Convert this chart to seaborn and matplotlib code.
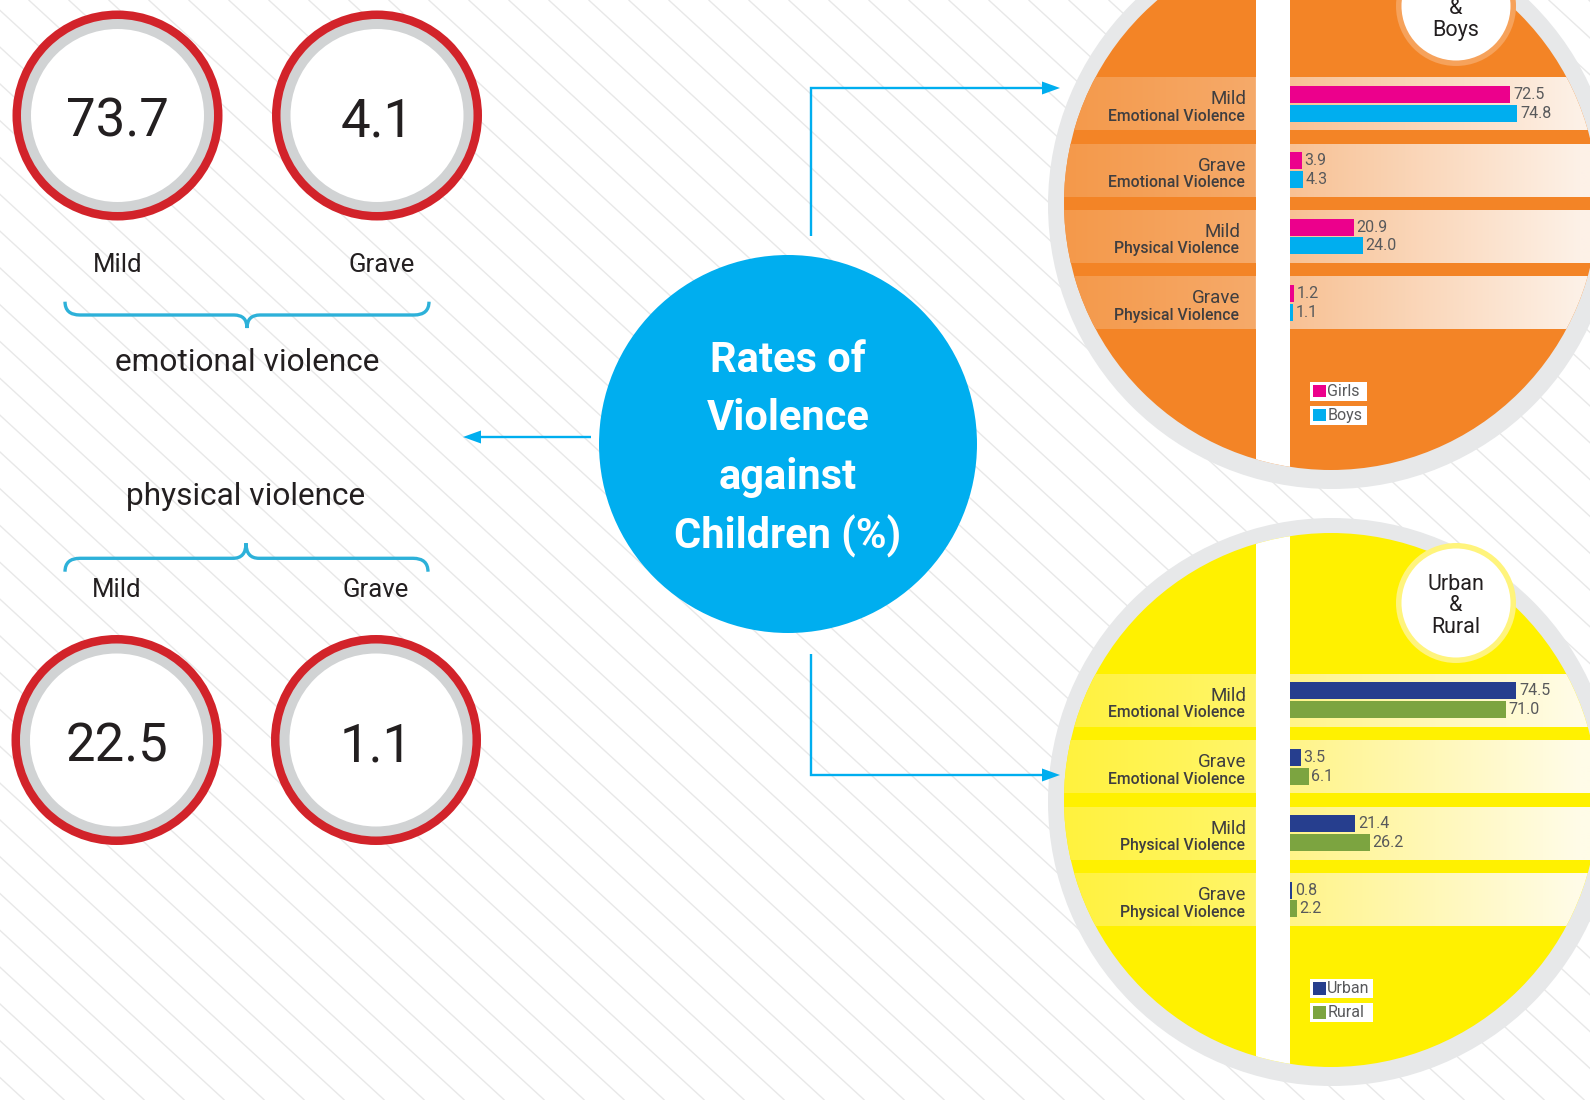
import numpy as np
import pandas as pd
import matplotlib
matplotlib.use("Agg")
import matplotlib.pyplot as plt
import seaborn as sns
from matplotlib.patches import Circle, Rectangle, Polygon, PathPatch
from matplotlib.path import Path
from matplotlib.colors import to_rgb

# ---------------- data ----------------
severity = ["Mild", "Grave", "Mild", "Grave"]
violence_type = ["Emotional Violence", "Emotional Violence",
                 "Physical Violence", "Physical Violence"]
girls = [72.5, 3.9, 20.9, 1.2]
boys = [74.8, 4.3, 24.0, 1.1]
urban = [74.5, 3.5, 21.4, 0.8]
rural = [71.0, 6.1, 26.2, 2.2]
overall_levels = ["Mild", "Grave"]
emotional_overall = [73.7, 4.1]
physical_overall = [22.5, 1.1]
gender_groups = ["Girls", "Boys"]
area_groups = ["Urban", "Rural"]
gender_title = ["Girls", "&", "Boys"]
area_title = ["Urban", "&", "Rural"]
title_lines = ["Rates of", "Violence", "against", "Children (%)"]
section_labels = ["emotional violence", "physical violence"]

# ---------------- setup ----------------
sns.set_theme(style="white")
plt.rcParams["font.family"] = ["Roboto", "DejaVu Sans"]

W, H = 1590, 1100
fig = plt.figure(figsize=(W / 100, H / 100), dpi=100)
ax = fig.add_axes([0, 0, 1, 1])
ax.axis("off")

DARK = "#231f20"
BLUE = "#00aeef"
BRACE = "#2db1d9"
LABEL = "#3f3e40"
VALUE = "#58595b"

# ---------------- hatched background ----------------
slope = 0.92
for c in np.arange(-1251.3, W + 40, 40.0):
    ax.plot([c, c + H / slope], [0, H], color="#e8e8e8", lw=1.0, zorder=0)


# ---------------- left: overall circles ----------------
def stat_circle(cx, cy, value):
    ax.add_patch(Circle((cx, cy), 105, fc="#d2232a", ec="none", zorder=2))
    ax.add_patch(Circle((cx, cy), 96.5, fc="#d1d3d4", ec="none", zorder=2.1))
    ax.add_patch(Circle((cx, cy), 86.5, fc="white", ec="none", zorder=2.2))
    ax.text(cx, cy + 21, f"{value:.1f}", ha="center", va="baseline",
            fontsize=38, color=DARK, fontweight="normal", zorder=3)


for x, v in zip([117.5, 377], emotional_overall):
    stat_circle(x, 115.5, v)
for x, v in zip([116.5, 376], physical_overall):
    stat_circle(x, 740, v)

for x, lab in zip([117.5, 382], overall_levels):
    ax.text(x, 272.5, lab, ha="center", va="baseline", fontsize=18.5, color=DARK, zorder=3)
for x, lab in zip([116.5, 376], overall_levels):
    ax.text(x, 596.7, lab, ha="center", va="baseline", fontsize=18.5, color=DARK, zorder=3)

ax.text(246.7, 370.7, section_labels[0], ha="center", va="baseline",
        fontsize=22.8, color=DARK, zorder=3)
ax.text(245.8, 505, section_labels[1], ha="center", va="baseline",
        fontsize=22.8, color=DARK, zorder=3)


def brace(x0, x1, xm, y_end, y_line, y_tip):
    e, m = 15, 13
    verts = [(x0, y_end), (x0, y_line), (x0 + e, y_line),
             (xm - m, y_line),
             (xm, y_line), (xm, y_tip),
             (xm, y_line), (xm + m, y_line),
             (x1 - e, y_line),
             (x1, y_line), (x1, y_end)]
    codes = [Path.MOVETO, Path.CURVE3, Path.CURVE3, Path.LINETO,
             Path.CURVE3, Path.CURVE3, Path.CURVE3, Path.CURVE3,
             Path.LINETO, Path.CURVE3, Path.CURVE3]
    ax.add_patch(PathPatch(Path(verts, codes), fc="none", ec=BRACE,
                           lw=2.4, zorder=3, capstyle="butt"))


brace(65, 429, 247, 301.7, 315, 328)
brace(65, 428, 246, 571.7, 558.3, 543.3)

# ---------------- centre circle ----------------
ax.add_patch(Circle((788, 444), 189, fc=BLUE, ec="none", zorder=2))
for i, line in enumerate(title_lines):
    ax.text(788, 371.5 + 58.9 * i, line, ha="center", va="baseline",
            fontsize=30, fontweight="bold", color="white", zorder=3)


def arrow_head(tx, ty, direction):
    L, hw = 18, 6.5
    pts = [(tx, ty), (tx - direction * L, ty - hw), (tx - direction * L, ty + hw)]
    ax.add_patch(Polygon(pts, closed=True, fc=BLUE, ec="none", zorder=3))


lw_arrow = 1.7
ax.plot([811, 811, 1045], [236, 88, 88], color=BLUE, lw=lw_arrow, zorder=3,
        solid_joinstyle="miter", solid_capstyle="butt")
arrow_head(1060, 88, 1)
ax.plot([811, 811, 1045], [654, 775, 775], color=BLUE, lw=lw_arrow, zorder=3,
        solid_joinstyle="miter", solid_capstyle="butt")
arrow_head(1060, 775, 1)
ax.plot([591, 478], [437, 437], color=BLUE, lw=lw_arrow, zorder=3, solid_capstyle="butt")
arrow_head(463, 437, -1)

# ---------------- right: bar panels ----------------
STRIPE_X0, STRIPE_X1 = 1256, 1290
BAR_X0 = 1290
PX_PER_UNIT = 3.04
PITCH = 66.4


def lerp(c0, c1, t):
    a, b = np.array(to_rgb(c0)), np.array(to_rgb(c1))
    return a + (b - a) * t


def panel(cy, base, band_left, band_right, ring, label_lines, label_cy,
          vals_a, vals_b, groups, colors, first_center, label_right,
          legend_top, legend_w):
    cx, r = 1331, 267
    ax.add_patch(Circle((cx + 1, cy + 2), 284, fc="#e7e8e9", ec="none", zorder=1))
    disc = Circle((cx, cy), r, fc=base, ec="none", zorder=2)
    ax.add_patch(disc)

    xs = np.linspace(1040, 1600, 561)
    img = np.zeros((1, xs.size, 3))
    for i, x in enumerate(xs):
        if x < STRIPE_X0:
            t = np.clip((x - 1064) / (STRIPE_X0 - 1064), 0, 1)
            img[0, i] = lerp(band_left[0], band_left[1], t)
        else:
            t = np.clip((x - STRIPE_X1) / (1580 - STRIPE_X1), 0, 1)
            img[0, i] = lerp(band_right[0], band_right[1], t)

    for k in range(4):
        yc = first_center + k * PITCH
        im = ax.imshow(img, extent=(1040, 1600, yc + 26.5, yc - 26.5),
                       aspect="auto", interpolation="bilinear", zorder=3)
        im.set_clip_path(disc)
        ax.text(label_right[k], yc + 0.5, severity[k], ha="right", va="baseline",
                fontsize=13.5, color=LABEL, zorder=6)
        ax.text(label_right[k] - 1.5, yc + 17, violence_type[k], ha="right",
                va="baseline", fontsize=11.3, fontweight="medium", color=LABEL, zorder=6)

    stripe = Rectangle((STRIPE_X0, cy - r - 5), STRIPE_X1 - STRIPE_X0, 2 * r + 10,
                       fc="white", ec="none", zorder=4)
    ax.add_patch(stripe)
    stripe.set_clip_path(disc)

    # title badge
    ax.add_patch(Circle((1456, label_cy), 60, fc=ring, ec="none", zorder=5))
    ax.add_patch(Circle((1456, label_cy), 54.5, fc="white", ec="none", zorder=5.1))
    for j, w in enumerate(label_lines):
        ax.text(1456, label_cy - 13 + 21.4 * j, w, ha="center", va="baseline",
                fontsize=15.5, color=DARK, zorder=6)

    # legend boxes
    for j, (g, col) in enumerate(zip(groups, colors)):
        y0 = legend_top + 24 * j
        ax.add_patch(Rectangle((1310, y0), legend_w, 18.5, fc="white", ec="none", zorder=5))
        ax.add_patch(Rectangle((1312.7, y0 + 3), 13, 12.4, fc=col, ec="none", zorder=5.1))
        ax.text(1327.3, y0 + 9.5, g, ha="left", va="center", fontsize=11.5,
                color=VALUE, zorder=6)

    # bars via seaborn
    cats = [f"{s} {v}" for s, v in zip(severity, violence_type)]
    df = pd.DataFrame({
        "category": cats * 2,
        "group": [groups[0]] * 4 + [groups[1]] * 4,
        "value": list(vals_a) + list(vals_b),
    })
    top_px = first_center - PITCH / 2
    bax = fig.add_axes([BAR_X0 / W, 1 - (top_px + 4 * PITCH) / H,
                        (W - BAR_X0) / W, 4 * PITCH / H])
    sns.barplot(data=df, x="value", y="category", hue="group", order=cats,
                hue_order=groups, palette=colors, orient="h", width=0.572,
                gap=0.105, saturation=1, errorbar=None, legend=False,
                linewidth=0, ax=bax)
    bax.set_xlim(0, (W - BAR_X0) / PX_PER_UNIT)
    bax.set_ylim(3.5, -0.5)
    bax.axis("off")
    bax.patch.set_alpha(0)
    for cont in bax.containers:
        bax.bar_label(cont, fmt="%.1f", padding=2, fontsize=11.5, color=VALUE)


panel(203, "#f38426", ("#f4994a", "#f6aa6a"), ("#f8c194", "#fdf1e7"), "#f6a25b",
      gender_title, 6, girls, boys, gender_groups, ["#ec008c", "#00aeef"],
      103.7, [1246, 1246, 1240, 1240], 382, 57)
panel(800, "#fff100", ("#fff23e", "#fff56a"), ("#fff489", "#fffce8"), "#fff47c",
      area_title, 603, urban, rural, area_groups, ["#263e8e", "#7ca440"],
      700.3, [1246, 1246, 1246, 1246], 979.3, 63)

ax.set_xlim(0, W)
ax.set_ylim(H, 0)
ax.set_aspect("auto")

fig.savefig("out.png", dpi=100)
